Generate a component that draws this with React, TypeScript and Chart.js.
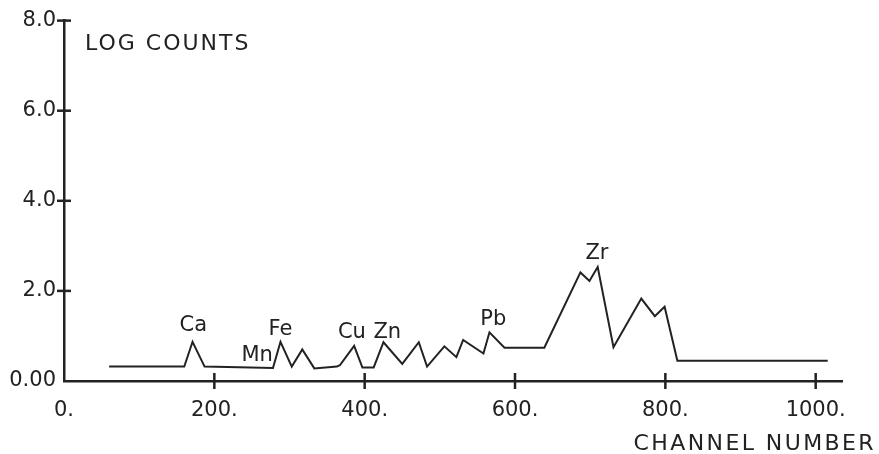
import React, { useEffect, useRef } from 'react';
import { Chart, registerables } from 'chart.js';

Chart.register(...registerables);

// ---- data ----
const channels = [60, 160, 171, 187, 278, 288, 303, 317, 333, 363, 367, 386, 397, 412, 425, 450, 472, 483, 506, 522, 531, 558, 566, 586, 639, 687, 699, 710, 731, 768, 786, 799, 816, 1016];
const logCounts = [0.32, 0.32, 0.87, 0.32, 0.29, 0.87, 0.32, 0.70, 0.28, 0.32, 0.35, 0.78, 0.30, 0.30, 0.86, 0.38, 0.86, 0.32, 0.77, 0.53, 0.91, 0.61, 1.08, 0.74, 0.74, 2.41, 2.22, 2.53, 0.75, 1.83, 1.44, 1.65, 0.45, 0.45];

const xTickValues = [0, 200, 400, 600, 800, 1000];
const yTickValues = [0, 2, 4, 6, 8];

const peakNames = ['Ca', 'Mn', 'Fe', 'Cu', 'Zn', 'Pb', 'Zr'];
const peakChannels = [172, 257, 288, 383, 430, 571, 709];
const peakLevels = [1.22, 0.57, 1.14, 1.07, 1.07, 1.37, 2.82];

const xTitle = 'CHANNEL NUMBER';
const yTitle = 'LOG COUNTS';

const INK = '#222222';
const FONT = 'DejaVu Sans';

const overlay = {
  id: 'overlay',
  afterDraw(chart: any) {
    const { ctx, chartArea, scales } = chart;
    const xs = scales.x;
    const ys = scales.y;
    ctx.save();
    ctx.strokeStyle = INK;
    ctx.lineWidth = 2.5;
    xs.ticks.forEach((t: any) => {
      if (t.value === 0) return;
      const px = xs.getPixelForValue(t.value);
      ctx.beginPath();
      ctx.moveTo(px, chartArea.bottom - 8);
      ctx.lineTo(px, chartArea.bottom + 8);
      ctx.stroke();
    });
    ys.ticks.forEach((t: any) => {
      if (t.value === 0) return;
      const py = ys.getPixelForValue(t.value);
      ctx.beginPath();
      ctx.moveTo(chartArea.left - 7, py);
      ctx.lineTo(chartArea.left + 7, py);
      ctx.stroke();
    });

    ctx.fillStyle = INK;
    ctx.font = `21px "${FONT}"`;
    ctx.textAlign = 'center';
    ctx.textBaseline = 'middle';
    peakNames.forEach((name, i) => {
      ctx.fillText(name, xs.getPixelForValue(peakChannels[i]), ys.getPixelForValue(peakLevels[i]));
    });

    ctx.font = `22px "${FONT}"`;
    ctx.textBaseline = 'alphabetic';
    (ctx as any).letterSpacing = '2px';
    ctx.textAlign = 'left';
    ctx.fillText(yTitle, chartArea.left + 21, chartArea.top + 29);
    (ctx as any).letterSpacing = '2.4px';
    ctx.textAlign = 'right';
    ctx.fillText(xTitle, chart.width - 3, chart.height - 4);
    ctx.restore();
  },
};

export default function App() {
  const ref = useRef<HTMLCanvasElement | null>(null);
  useEffect(() => {
    document.body.style.margin = '0';
    document.body.style.background = '#ffffff';
    const canvas = ref.current;
    if (!canvas) return;
    const chart = new Chart(canvas, {
      type: 'line',
      data: {
        datasets: [
          {
            data: channels.map((c, i) => ({ x: c, y: logCounts[i] })),
            borderColor: INK,
            borderWidth: 2,
            pointRadius: 0,
            tension: 0,
            fill: false,
          },
        ],
      },
      options: {
        responsive: false,
        animation: false,
        layout: { padding: { top: 18, right: 37, bottom: 0, left: 0 } },
        plugins: { legend: { display: false }, tooltip: { enabled: false }, title: { display: false } },
        scales: {
          x: {
            type: 'linear',
            min: 0,
            max: 1035,
            grid: { display: false, drawTicks: false },
            border: { display: true, color: INK, width: 2.5 },
            ticks: {
              maxRotation: 0,
              autoSkip: false,
              padding: 17,
              color: INK,
              font: { family: FONT, size: 21 },
              callback: (v: any) => `${v}.`,
            },
            afterBuildTicks: (s: any) => {
              s.ticks = xTickValues.map((v) => ({ value: v }));
            },
            afterFit: (s: any) => {
              s.height = 73;
              s.paddingLeft = 0;
              s.paddingRight = 0;
            },
          },
          y: {
            type: 'linear',
            min: 0,
            max: 8,
            grid: { display: false, drawTicks: false },
            border: { display: true, color: INK, width: 2.5 },
            ticks: {
              padding: 8,
              color: INK,
              font: { family: FONT, size: 21 },
              callback: (v: any) => (v === 0 ? '0.00' : Number(v).toFixed(1)),
            },
            afterBuildTicks: (s: any) => {
              s.ticks = yTickValues.map((v) => ({ value: v }));
            },
            afterFit: (s: any) => {
              s.width = 64;
            },
          },
        },
      },
      plugins: [overlay],
    });
    return () => chart.destroy();
  }, []);
  return (
    <div style={{ width: 879, height: 454, background: '#fff' }}>
      <canvas ref={ref} width={879} height={454} />
    </div>
  );
}
